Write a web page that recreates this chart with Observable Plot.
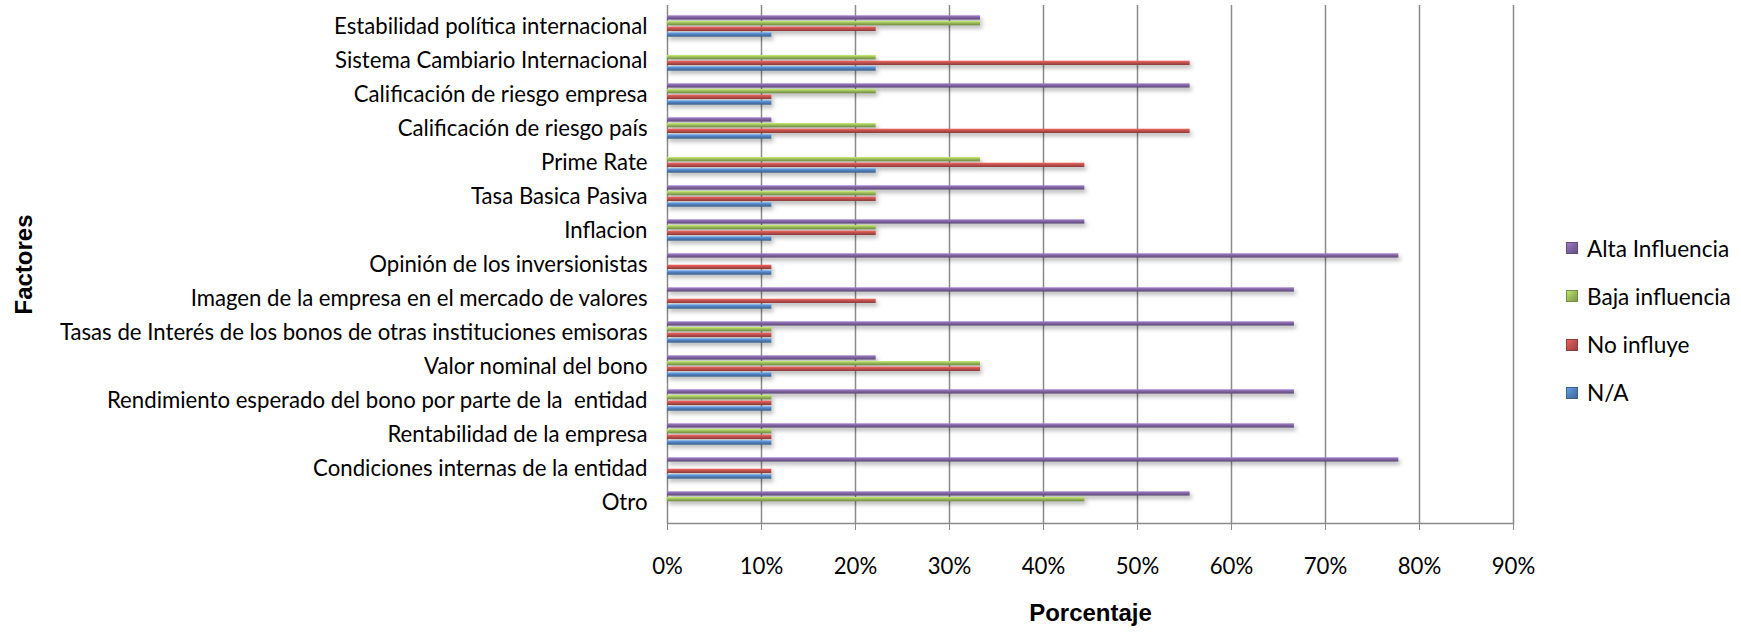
<!DOCTYPE html>
<html>
<head>
<meta charset="utf-8">
<script src="https://cdn.jsdelivr.net/npm/d3@7"></script>
<script src="https://cdn.jsdelivr.net/npm/@observablehq/plot@0.6"></script>
<style>
  html, body { margin: 0; padding: 0; background: #fff; }
  #chart { position: relative; width: 1741px; height: 633px; overflow: hidden; }
  #chart svg { position: absolute; left: 0; top: 0; }
  g[aria-label="bar"] { filter: drop-shadow(2px 3px 2px rgba(0,0,0,0.30)); }
  .legend { position: absolute; left: 1566px; top: 236px; font-family: Lato, sans-serif; font-size: 22.6px; color: #000; }
  .legend .row { display: flex; align-items: center; height: 24px; margin-bottom: 24.3px; white-space: nowrap; }
  .legend .sw { width: 12px; height: 12px; margin-right: 9px; box-sizing: border-box; }
</style>
</head>
<body>
<div id="chart"></div>
<script>
// ---- data ----
const categories = [
  "Estabilidad política internacional",
  "Sistema Cambiario Internacional",
  "Calificación de riesgo empresa",
  "Calificación de riesgo país",
  "Prime Rate",
  "Tasa Basica Pasiva",
  "Inflacion",
  "Opinión de los inversionistas",
  "Imagen de la empresa en el mercado de valores",
  "Tasas de Interés de los bonos de otras instituciones emisoras",
  "Valor nominal del bono",
  "Rendimiento esperado del bono por parte de la  entidad",
  "Rentabilidad de la empresa",
  "Condiciones internas de la entidad",
  "Otro"
];
const seriesNames = ["Alta Influencia", "Baja influencia", "No influye", "N/A"];
const altaInfluencia = [0.333, 0, 0.556, 0.111, 0, 0.444, 0.444, 0.778, 0.667, 0.667, 0.222, 0.667, 0.667, 0.778, 0.556];
const bajaInfluencia = [0.333, 0.222, 0.222, 0.222, 0.333, 0.222, 0.222, 0, 0, 0.111, 0.333, 0.111, 0.111, 0, 0.444];
const noInfluye      = [0.222, 0.556, 0.111, 0.556, 0.444, 0.222, 0.222, 0.111, 0.222, 0.111, 0.333, 0.111, 0.111, 0.111, 0];
const na             = [0.111, 0.222, 0.111, 0.111, 0.222, 0.111, 0.111, 0.111, 0.111, 0.111, 0.111, 0.111, 0.111, 0.111, 0];
const seriesColors = ["#8064A2", "#9BBB59", "#C0504D", "#4F81BD"];
const xTicks = [0, 0.1, 0.2, 0.3, 0.4, 0.5, 0.6, 0.7, 0.8, 0.9];
const xTitle = "Porcentaje";
const yTitle = "Factores";

// ---- layout ----
const W = 1741, H = 633;
const mTop = 5, mBottom = 110, mLeft = 667, mRight = 228;
const band = (H - mTop - mBottom) / categories.length;
const barH = 4.8, barStep = 5.7;
const inset = (band - barH) / 2;

const values = [altaInfluencia, bajaInfluencia, noInfluye, na];
const rows = [];
seriesNames.forEach((s, i) => categories.forEach((c, j) => rows.push({category: c, series: s, idx: i, value: values[i][j]})));

const barMarks = seriesNames.map((s, i) =>
  Plot.barX(rows.filter(d => d.idx === i && d.value > 0), {
    x: "value", y: "category",
    fill: `url(#grad${i})`,
    insetTop: inset, insetBottom: inset,
    dy: (i - 1.5) * barStep
  })
);

const fmt = d3.format(".0%");
const svg = Plot.plot({
  width: W, height: H,
  marginTop: mTop, marginBottom: mBottom, marginLeft: mLeft, marginRight: mRight,
  style: {fontFamily: "Lato, sans-serif", fontSize: "22.2px", color: "#000", background: "#fff"},
  x: {domain: [0, 0.9]},
  y: {domain: categories, padding: 0},
  marks: [
    Plot.gridX(xTicks, {stroke: "#8a8a8a", strokeOpacity: 1, strokeWidth: 1.5}),
    Plot.frame({anchor: "bottom", stroke: "#8a8a8a", strokeWidth: 1.5}),
    Plot.axisX(xTicks, {tickSize: 7, tickPadding: 28, tickFormat: fmt, label: null, stroke: "#8a8a8a", fill: "#000"}),
    Plot.axisY({tickSize: 0, tickPadding: 20, label: null, fill: "#000"}),
    ...barMarks,
    Plot.text([xTitle], {frameAnchor: "bottom", dy: 97, fontWeight: "bold", fontSize: 24, fontFamily: "Liberation Sans, Arial, sans-serif", fill: "#000"}),
    Plot.text([yTitle], {frameAnchor: "left", textAnchor: "middle", dx: 24 - mLeft, rotate: -90, fontWeight: "bold", fontSize: 24, fontFamily: "Liberation Sans, Arial, sans-serif", fill: "#000"})
  ]
});

// gradients for the bevelled bars
const defs = d3.select(svg).insert("defs", ":first-child");
seriesColors.forEach((c, i) => {
  const g = defs.append("linearGradient").attr("id", `grad${i}`)
    .attr("x1", 0).attr("y1", 0).attr("x2", 0).attr("y2", 1);
  g.append("stop").attr("offset", "0%").attr("stop-color", d3.color(c).brighter(0.7).formatHex());
  g.append("stop").attr("offset", "45%").attr("stop-color", c);
  g.append("stop").attr("offset", "100%").attr("stop-color", d3.color(c).darker(0.9).formatHex());
});

const chart = document.getElementById("chart");
chart.appendChild(svg);

// legend
const legend = document.createElement("div");
legend.className = "legend";
seriesNames.forEach((s, i) => {
  const row = document.createElement("div");
  row.className = "row";
  const sw = document.createElement("span");
  sw.className = "sw";
  const c = seriesColors[i];
  sw.style.background = `linear-gradient(135deg, ${d3.color(c).brighter(0.6).formatHex()}, ${c} 50%, ${d3.color(c).darker(0.6).formatHex()})`;
  sw.style.border = `1px solid ${d3.color(c).darker(0.8).formatHex()}`;
  const t = document.createElement("span");
  t.textContent = s;
  row.appendChild(sw); row.appendChild(t);
  legend.appendChild(row);
});
chart.appendChild(legend);
</script>
</body>
</html>
